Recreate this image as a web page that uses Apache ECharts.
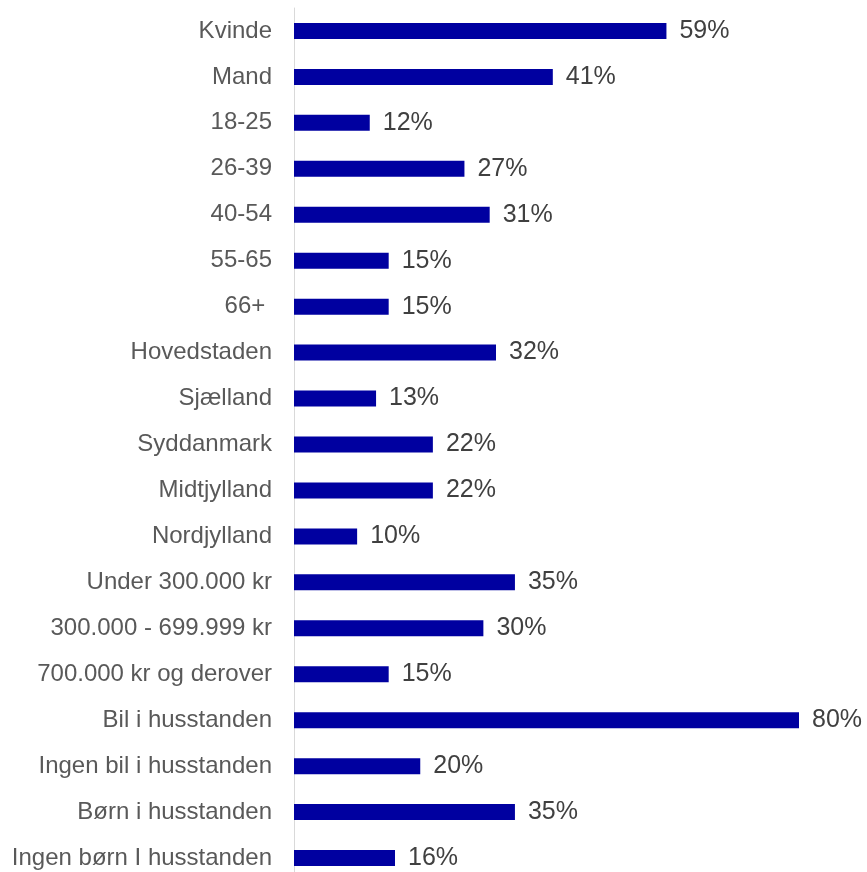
<!DOCTYPE html>
<html>
<head>
<meta charset="utf-8">
<script src="https://cdn.jsdelivr.net/npm/echarts@6/dist/echarts.min.js"></script>
<style>
  html, body { margin: 0; padding: 0; background: #fff; overflow: hidden; }
  /* diagrammet fortsætter lidt under vinduets nederste kant */
  #chart { width: 867px; height: 890px; }
</style>
</head>
<body>
<div id="chart"></div>
<script>
// kategorier, fra toppen og ned
const categories = [
  'Kvinde', 'Mand', '18-25', '26-39', '40-54', '55-65', '66+ ',
  'Hovedstaden', 'Sjælland', 'Syddanmark', 'Midtjylland', 'Nordjylland',
  'Under 300.000 kr', '300.000 - 699.999 kr', '700.000 kr og derover',
  'Bil i husstanden', 'Ingen bil i husstanden',
  'Børn i husstanden', 'Ingen børn I husstanden'
];
const values = [59, 41, 12, 27, 31, 15, 15, 32, 13, 22, 22, 10, 35, 30, 15, 80, 20, 35, 16];

const myChart = echarts.init(document.getElementById('chart'));

const option = {
  backgroundColor: '#ffffff',
  animation: false,
  grid: {
    left: 294,
    top: 8,
    width: 505,
    height: 873,
    containLabel: false
  },
  xAxis: {
    type: 'value',
    min: 0,
    max: 80,
    show: false
  },
  yAxis: {
    type: 'category',
    inverse: true,
    data: categories,
    axisLine: { show: true, lineStyle: { color: '#d9d9d9', width: 1 } },
    axisTick: { show: false },
    axisLabel: {
      margin: 22,
      color: '#595959',
      fontFamily: 'Liberation Sans, Arial, sans-serif',
      fontSize: 24
    }
  },
  series: [
    {
      type: 'bar',
      data: values,
      barWidth: 16,
      itemStyle: { color: '#0000a0' },
      label: {
        show: true,
        position: 'right',
        distance: 13,
        formatter: '{c}%',
        color: '#404040',
        fontFamily: 'Liberation Sans, Arial, sans-serif',
        fontSize: 25
      }
    }
  ]
};
option && myChart.setOption(option);
</script>
</body>
</html>
